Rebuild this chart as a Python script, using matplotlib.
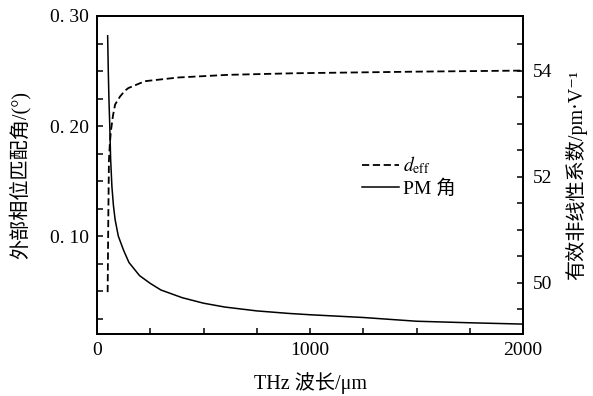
import matplotlib
matplotlib.use("Agg")
import matplotlib.pyplot as plt
from matplotlib.ticker import MultipleLocator, FixedLocator, FuncFormatter

plt.rcParams['font.family'] = ['Liberation Serif', 'Noto Sans CJK SC', 'DejaVu Sans']
plt.rcParams['mathtext.fontset'] = 'stix'
plt.rcParams['font.size'] = 14

# PM angle (left axis), wavelength in um
pm_wl = [50, 53, 56, 60, 64, 70, 77, 85, 100, 125, 150, 200, 250, 300, 400,
         500, 600, 750, 900, 1000, 1250, 1500, 1750, 2000]
pm_ang = [0.282, 0.250, 0.225, 0.200, 0.170, 0.145, 0.128, 0.115, 0.100, 0.087,
          0.076, 0.064, 0.057, 0.051, 0.044, 0.039, 0.0355, 0.032, 0.0297,
          0.0285, 0.026, 0.0226, 0.0212, 0.0200]

# d_eff (right axis)
d_wl = [50, 53, 56, 60, 65, 75, 85, 108, 131, 147, 225, 382, 617, 930, 1500, 2000]
d_eff = [49.82, 51.2, 52.3, 52.6, 52.85, 53.15, 53.36, 53.51, 53.62, 53.67,
         53.80, 53.87, 53.92, 53.95, 53.98, 54.00]

left_minor = [0.025, 0.05, 0.075, 0.125, 0.15, 0.175, 0.225, 0.25, 0.275]
right_minor = [49.5, 50.5, 51, 51.5, 52.5, 53, 53.5, 54.5]

fig = plt.figure(figsize=(5.93, 3.96), dpi=100)
ax = fig.add_axes([97/593, 1-334/396, (523-97)/593, (334-16)/396])
ax2 = ax.twinx()

l2, = ax2.plot(d_wl, d_eff, color='black', lw=1.3, linestyle=(0, (4, 2)))
l1, = ax.plot(pm_wl, pm_ang, color='black', lw=1.1)

ax.set_xlim(0, 2000)
ax.set_ylim(0.011, 0.30)
ax2.set_ylim(49.03, 55.03)

ax.xaxis.set_major_locator(MultipleLocator(1000))
ax.xaxis.set_minor_locator(MultipleLocator(250))
ax.yaxis.set_major_locator(FixedLocator([0.1, 0.2, 0.3]))
ax.yaxis.set_minor_locator(FixedLocator(left_minor))
ax2.yaxis.set_major_locator(FixedLocator([50, 52, 54]))
ax2.yaxis.set_minor_locator(FixedLocator(right_minor))

ax.yaxis.set_major_formatter(FuncFormatter(lambda v, p: ('%.2f' % v).replace('.', '. ')))

for a in (ax, ax2):
    for s in a.spines.values():
        s.set_linewidth(1.3)

ax.tick_params(axis='both', which='both', direction='in', top=False, right=False,
               width=1.1, length=4, pad=6)
ax2.tick_params(axis='y', which='both', direction='in', left=False, right=True,
                width=1.1, length=4, pad=7)

lab_fs = 14.5
ax.set_xlabel('THz 波长/μm', labelpad=9, fontsize=lab_fs)
ax.set_ylabel('外部相位匹配角/(°)', labelpad=14, fontsize=lab_fs)
ax2.set_ylabel('有效非线性系数/pm·V⁻¹', labelpad=9, fontsize=lab_fs)

leg = ax.legend([l2, l1], [r'$d_{\mathrm{eff}}$', 'PM 角'], loc='center left',
                bbox_to_anchor=(0.622, 0.497), frameon=False, borderpad=0,
                borderaxespad=0, handlelength=1.9, handletextpad=0.2,
                labelspacing=0.15)

fig.savefig('out.png', dpi=100)
